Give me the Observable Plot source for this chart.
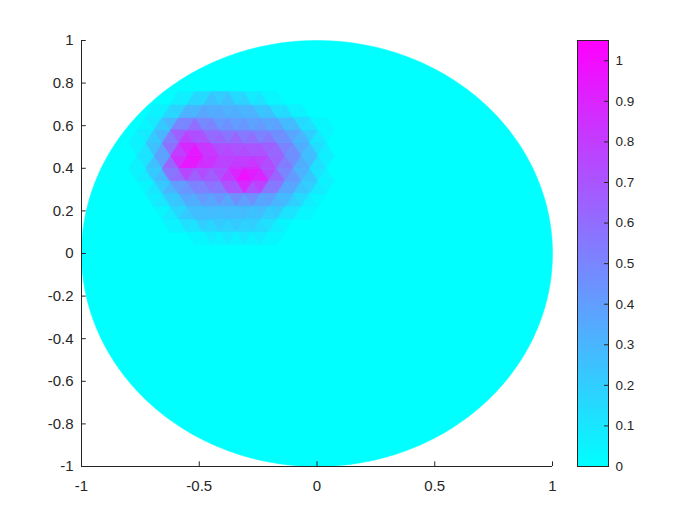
<!DOCTYPE html>
<html><head><meta charset="utf-8">
<script src="https://cdn.jsdelivr.net/npm/d3@7"></script>
<script src="https://cdn.jsdelivr.net/npm/@observablehq/plot@0.6"></script>
<style>
body{margin:0;background:#fff;}
#chart{position:relative;width:700px;height:525px;background:#fff;overflow:hidden;}
#chart svg{position:absolute;top:0;}
</style></head><body><div id="chart"></div>
<script>
// ---- data ----
const xTicks = [-1, -0.5, 0, 0.5, 1];
const yTicks = [-1, -0.8, -0.6, -0.4, -0.2, 0, 0.2, 0.4, 0.6, 0.8, 1];
const cbTicks = [0, 0.1, 0.2, 0.3, 0.4, 0.5, 0.6, 0.7, 0.8, 0.9, 1];
const colorMax = 1.05;
const diskRadius = 1;
// mesh node columns / rows (odd rows shifted by rowShift)
const meshX = [-0.80, -0.73, -0.66, -0.59, -0.52, -0.45, -0.38, -0.31, -0.24, -0.17, -0.10, -0.03, 0.04, 0.11];
const meshY = [0.76, 0.70, 0.64, 0.58, 0.52, 0.46, 0.40, 0.34, 0.28, 0.22, 0.16, 0.10, 0.04];
const rowShift = 0.035;
const meshV = [
  [0, 0, 0, 0, 0, 0.15, 0.15, 0, 0, 0, 0, 0, 0, 0],
  [0, 0, 0, 0.2, 0.3, 0.3, 0.3, 0.25, 0.1, 0, 0, 0, 0, 0],
  [0, 0, 0.15, 0.35, 0.4, 0.4, 0.35, 0.35, 0.35, 0.3, 0.15, 0, 0, 0],
  [0, 0.1, 0.4, 0.75, 0.65, 0.5, 0.5, 0.45, 0.45, 0.4, 0.3, 0.1, 0, 0],
  [0, 0.15, 0.4, 0.8, 0.8, 0.7, 0.7, 0.7, 0.65, 0.55, 0.4, 0.2, 0, 0],
  [0, 0.2, 0.55, 1.05, 1.0, 0.8, 0.75, 0.75, 0.75, 0.6, 0.4, 0.2, 0, 0],
  [0, 0.15, 0.4, 0.95, 0.85, 0.75, 0.8, 0.9, 0.85, 0.6, 0.4, 0.2, 0, 0],
  [0, 0.1, 0.35, 0.5, 0.6, 0.65, 1.0, 1.05, 0.8, 0.5, 0.35, 0.15, 0, 0],
  [0, 0, 0.2, 0.35, 0.45, 0.5, 0.5, 0.6, 0.5, 0.35, 0.25, 0.1, 0, 0],
  [0, 0, 0.1, 0.25, 0.3, 0.3, 0.3, 0.3, 0.3, 0.25, 0.1, 0, 0, 0],
  [0, 0, 0, 0.15, 0.25, 0.25, 0.25, 0.25, 0.2, 0.1, 0, 0, 0, 0],
  [0, 0, 0, 0, 0.1, 0.15, 0.15, 0.15, 0.1, 0, 0, 0, 0, 0],
  [0, 0, 0, 0, 0, 0, 0, 0, 0, 0, 0, 0, 0, 0]
];

// ---- build mesh ----
const nodes = [];
meshY.forEach((y, r) => meshX.forEach((x, c) => {
  nodes.push({x: x + (r % 2 ? rowShift : 0), y, v: meshV[r][c]});
}));
const delaunay = d3.Delaunay.from(nodes, d => d.x, d => d.y);
const triPts = [];
for (let k = 0; k < delaunay.triangles.length; k += 3) {
  const ids = [delaunay.triangles[k], delaunay.triangles[k + 1], delaunay.triangles[k + 2]];
  const v = d3.mean(ids, i => nodes[i].v);
  if (v <= 0) continue; // same colour as the background disk
  ids.forEach(i => triPts.push({tri: k / 3, x: nodes[i].x, y: nodes[i].y, v}));
}
const disk = d3.range(0, 360, 1).map(a => ({x: diskRadius * Math.cos(a * Math.PI / 180), y: diskRadius * Math.sin(a * Math.PI / 180)}));

const colorOpts = {type: "linear", domain: [0, colorMax], range: ["#00ffff", "#ff00ff"], interpolate: "rgb"};
const ink = "#262626";
const font = "'Liberation Sans', Arial, sans-serif";
const fmt = d => String(d);

const main = Plot.plot({
  width: 700, height: 525,
  marginLeft: 81, marginRight: 148, marginTop: 40, marginBottom: 59,
  x: {domain: [-1, 1]},
  y: {domain: [-1, 1]},
  color: colorOpts,
  style: {fontFamily: font, fontSize: "15px", color: ink, background: "transparent"},
  marks: [
    Plot.line(disk, {x: "x", y: "y", fill: "#00ffff", stroke: "#00ffff", strokeWidth: 0.5, curve: "linear-closed"}),
    Plot.line(triPts, {x: "x", y: "y", z: "tri", fill: "v", stroke: "v", strokeWidth: 0.6, curve: "linear-closed"}),
    Plot.ruleX([-1], {y1: -1, y2: 1, stroke: ink, strokeWidth: 1}),
    Plot.ruleY([-1], {x1: -1, x2: 1, stroke: ink, strokeWidth: 1}),
    Plot.ruleY(yTicks, {x1: -1, x2: -0.98, stroke: ink, strokeWidth: 1}),
    Plot.ruleX(xTicks, {y1: -1, y2: -0.978, stroke: ink, strokeWidth: 1}),
    Plot.axisY({ticks: yTicks, tickSize: 0, tickPadding: 8, tickFormat: fmt, label: null, fill: ink, fontSize: 15}),
    Plot.axisX({ticks: xTicks, tickSize: 0, tickPadding: 14, tickFormat: fmt, label: null, fill: ink, fontSize: 15})
  ]
});
main.style.left = "0px";

const cbar = Plot.plot({
  width: 140, height: 525,
  marginLeft: 17, marginRight: 92, marginTop: 40, marginBottom: 59,
  x: {domain: [0, 1], axis: null},
  y: {domain: [0, colorMax]},
  color: colorOpts,
  style: {fontFamily: font, fontSize: "13.5px", color: ink, background: "transparent"},
  marks: [
    Plot.raster({x1: 0, x2: 1, y1: 0, y2: colorMax, fill: (x, y) => y, pixelSize: 1}),
    Plot.frame({stroke: ink, strokeWidth: 1}),
    Plot.ruleY(cbTicks, {x1: 0.87, x2: 1, stroke: ink, strokeWidth: 1}),
    Plot.axisY({anchor: "right", ticks: cbTicks, tickSize: 0, tickPadding: 7, tickFormat: fmt, label: null, fill: ink, fontSize: 13.5})
  ]
});
cbar.style.left = "560px";

const host = document.getElementById("chart");
host.appendChild(main);
host.appendChild(cbar);
</script>
</body></html>
